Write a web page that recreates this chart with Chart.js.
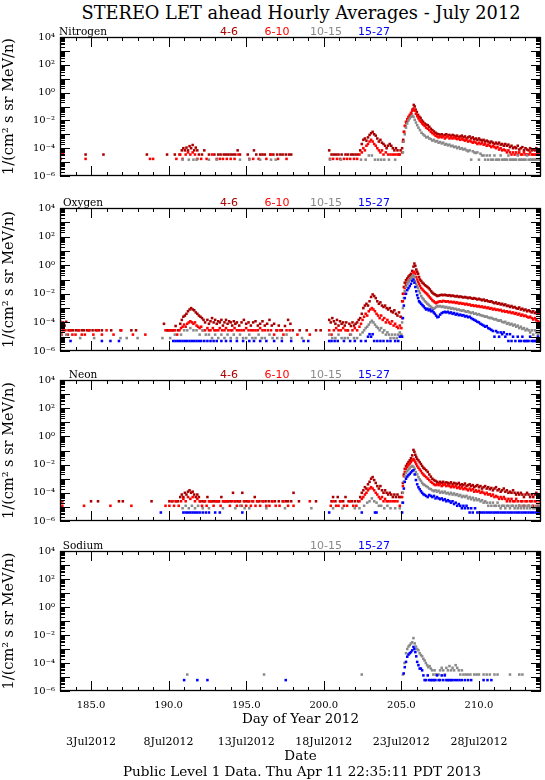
<!DOCTYPE html>
<html>
<head>
<meta charset="utf-8">
<script src="https://cdn.jsdelivr.net/npm/chart.js@4.4.1/dist/chart.umd.min.js"></script>
<style>
    body { margin: 0; width: 545px; height: 780px; background: #fff; position: relative; overflow: hidden; }
    canvas { position: absolute; left: 0; }
    .txt { position: absolute; white-space: nowrap; line-height: 1; transform: translate(-50%, -50%); }
</style>
</head>
<body>
<script>
/** DATA */

const bandLabels = ['4-6', '6-10', '10-15', '15-27'];
const bandColors = ['#a80000', '#ff0000', '#8a8a8a', '#0000ff'];
const dayTicks = [185, 190, 195, 200, 205, 210];
const dateLabels = ['3Jul2012', '8Jul2012', '13Jul2012', '18Jul2012', '23Jul2012', '28Jul2012'];
const yTickValues = [1e-6, 1e-4, 1e-2, 1e0, 1e2, 1e4];
const yTickLabels = ['10⁻⁶', '10⁻⁴', '10⁻²', '10⁰', '10²', '10⁴'];

// [day of year, flux]
const nitrogen46 = [
    [183.03,3.5e-5],[183.12,3.5e-5],[183.2,3.5e-5],[184.65,3.5e-5],[185.8,3.5e-5],[188.6,3.5e-5],[189.9,3.5e-5],[190.4,3.5e-5],[190.7,3.5e-5],
    [190.85,7e-5],[190.95,1e-4],[191.05,7e-5],[191.15,1.1e-4],[191.25,7e-5],[191.35,1.4e-4],[191.45,1e-4],[191.55,1.7e-4],[191.65,7e-5],[191.75,1.1e-4],[191.85,7e-5],[191.95,3.5e-5],
    [192.15,3.5e-5],[192.3,7e-5],[192.6,3.5e-5],[192.95,3.5e-5],[193.2,3.5e-5],[193.35,3.5e-5],[193.55,3.5e-5],[193.7,3.5e-5],[193.85,3.5e-5],[194.0,3.5e-5],[194.15,3.5e-5],[194.3,3.5e-5],[194.45,7e-5],[194.6,3.5e-5],
    [195.1,3.5e-5],[195.5,7e-5],[195.65,3.5e-5],[195.9,3.5e-5],[196.05,3.5e-5],[196.2,3.5e-5],[196.55,3.5e-5],[196.75,3.5e-5],[197.0,3.5e-5],[197.2,3.5e-5],[197.35,3.5e-5],[197.55,3.5e-5],[197.75,3.5e-5],[197.9,3.5e-5],
    [200.35,7e-5],[200.5,3.5e-5],[200.65,3.5e-5],[200.8,3.5e-5],[200.95,3.5e-5],[201.15,3.5e-5],[201.4,3.5e-5],[201.55,3.5e-5],[201.75,3.5e-5],[201.9,3.5e-5],[202.05,3.5e-5],[202.2,3.5e-5],
    [202.35,7e-5],[202.45,2e-4],[202.55,4e-4],[202.65,5e-4],[202.75,3.5e-4],[202.85,6e-4],[202.95,9e-4],[203.05,1.2e-3],[203.15,1.5e-3],[203.25,1e-3],[203.35,8e-4],[203.45,5e-4],[203.55,3e-4],[203.65,4e-4],[203.75,2.5e-4],[203.85,2e-4],[203.95,1.5e-4],
    [204.05,1e-4],[204.15,1.5e-4],[204.25,2e-4],[204.35,1.5e-4],[204.45,1e-4],[204.55,7e-5],[204.65,1e-4],[204.75,7e-5],[204.85,3.5e-5],[204.95,7e-5],
    [205.05,1e-4],[205.12,4e-4],[205.18,1.5e-3],[205.25,4e-3],[205.32,7e-3],[205.4,1e-2],[205.48,1.5e-2],[205.56,2e-2],[205.64,3e-2],[205.72,6e-2],[205.8,1.3e-1],[205.86,1e-1],[205.92,6e-2],
    [206.0,4e-2],[206.08,2.5e-2],[206.16,1.8e-2],[206.24,1.5e-2],[206.32,1e-2],[206.4,8e-3],[206.5,6e-3],[206.6,5e-3],[206.7,4.5e-3],[206.8,3.5e-3],[206.9,2.5e-3],
    [207.0,2e-3],[207.1,1.6e-3],[207.2,1.3e-3],[207.3,1.1e-3],[207.4,1e-3],[207.5,9e-4],[207.6,1e-3],[207.7,8e-4],[207.8,9e-4],[207.9,1e-3],
    [208.0,8e-4],[208.1,9e-4],[208.2,7e-4],[208.3,9e-4],[208.4,8e-4],[208.5,7e-4],[208.6,8e-4],[208.7,6e-4],[208.8,7e-4],[208.9,8e-4],
    [209.0,6e-4],[209.1,7e-4],[209.2,5e-4],[209.3,6e-4],[209.4,7e-4],[209.5,5e-4],[209.6,6e-4],[209.7,4.5e-4],[209.8,5e-4],[209.9,4e-4],
    [210.0,5e-4],[210.1,4e-4],[210.2,3.5e-4],[210.3,4e-4],[210.4,3e-4],[210.5,3.5e-4],[210.6,3e-4],[210.7,2.5e-4],[210.8,3e-4],[210.9,2.5e-4],
    [211.0,2e-4],[211.1,2.5e-4],[211.2,2e-4],[211.3,2.5e-4],[211.4,1.8e-4],[211.5,2e-4],[211.6,1.5e-4],[211.7,2e-4],[211.8,1.5e-4],[211.9,1.8e-4],
    [212.0,1.2e-4],[212.1,1.5e-4],[212.2,1e-4],[212.3,1.2e-4],[212.4,1e-4],[212.5,1.5e-4],[212.6,8e-5],[212.7,1e-4],[212.8,1.2e-4],[212.9,7e-5],
    [213.0,1e-4],[213.1,8e-5],[213.2,7e-5],[213.3,1e-4],[213.4,7e-5],[213.5,8e-5],[213.6,7e-5],[213.7,1e-4],[213.8,7e-5],[213.9,7e-5]
];
const nitrogen610 = [
    [183.05,1.7e-5],[183.2,3.5e-5],[184.65,1.7e-5],[188.8,1.7e-5],[189.0,1.7e-5],[190.5,1.7e-5],[190.75,3.5e-5],[190.9,1.7e-5],[191.1,3.5e-5],[191.25,5e-5],[191.4,3.5e-5],[191.55,5e-5],[191.7,3.5e-5],[191.85,1.7e-5],
    [192.1,1.7e-5],[192.45,1.7e-5],[192.8,3.5e-5],[193.1,1.7e-5],[193.3,1.7e-5],[193.5,1.7e-5],[193.75,1.7e-5],[194.0,1.7e-5],[194.25,1.7e-5],[194.5,3.5e-5],[195.2,1.7e-5],[195.45,1.7e-5],[195.8,1.7e-5],[196.3,1.7e-5],[196.6,3.5e-5],[197.05,1.7e-5],[197.6,1.7e-5],
    [200.4,1.7e-5],[200.6,1.7e-5],[200.85,1.7e-5],[201.05,1.7e-5],[201.3,1.7e-5],[201.5,1.7e-5],[201.7,1.7e-5],[201.95,1.7e-5],[202.15,1.7e-5],[202.3,3.5e-5],
    [202.45,5e-5],[202.55,1e-4],[202.65,7e-5],[202.75,1.5e-4],[202.85,2e-4],[202.95,3e-4],[203.05,4e-4],[203.15,3e-4],[203.25,2e-4],[203.35,1.5e-4],[203.45,1e-4],[203.55,7e-5],[203.65,5e-5],[203.75,7e-5],[203.85,3.5e-5],
    [204.0,5e-5],[204.15,3.5e-5],[204.3,3.5e-5],[204.45,3.5e-5],[204.6,3.5e-5],[204.75,3.5e-5],[204.9,3.5e-5],
    [205.05,5e-5],[205.1,3e-4],[205.16,1.5e-3],[205.22,4e-3],[205.3,8e-3],[205.38,1.2e-2],[205.46,1.8e-2],[205.54,2.5e-2],[205.62,3.5e-2],[205.7,5e-2],[205.78,7e-2],[205.86,5e-2],[205.94,3e-2],
    [206.02,2e-2],[206.1,1.4e-2],[206.18,1e-2],[206.26,8e-3],[206.34,6e-3],[206.42,5e-3],[206.5,4e-3],[206.6,3e-3],[206.7,2.5e-3],[206.8,2e-3],[206.9,1.5e-3],
    [207.0,1.2e-3],[207.1,1e-3],[207.2,8e-4],[207.3,7e-4],[207.4,6e-4],[207.5,7e-4],[207.6,6e-4],[207.7,7e-4],[207.8,5e-4],[207.9,6e-4],
    [208.0,7e-4],[208.1,5e-4],[208.2,6e-4],[208.3,5e-4],[208.4,6e-4],[208.5,5e-4],[208.6,4.5e-4],[208.7,5e-4],[208.8,4e-4],[208.9,5e-4],
    [209.0,4e-4],[209.1,3.5e-4],[209.2,4e-4],[209.3,3e-4],[209.4,3.5e-4],[209.5,3e-4],[209.6,2.5e-4],[209.7,3e-4],[209.8,2.5e-4],[209.9,2e-4],
    [210.0,2.5e-4],[210.1,2e-4],[210.2,2.5e-4],[210.3,1.8e-4],[210.4,2e-4],[210.5,1.5e-4],[210.6,1.8e-4],[210.7,1.5e-4],[210.8,1.2e-4],[210.9,1.5e-4],
    [211.0,1.2e-4],[211.1,1e-4],[211.2,1.2e-4],[211.3,8e-5],[211.4,1e-4],[211.5,7e-5],[211.6,8e-5],[211.7,7e-5],[211.8,5e-5],[211.9,7e-5],
    [212.0,5e-5],[212.1,3.5e-5],[212.2,5e-5],[212.3,3.5e-5],[212.4,5e-5],[212.5,3.5e-5],[212.6,5e-5],[212.7,3.5e-5],[212.8,3.5e-5],[212.9,5e-5],
    [213.0,3.5e-5],[213.1,3.5e-5],[213.2,3.5e-5],[213.3,5e-5],[213.4,3.5e-5],[213.5,3.5e-5],[213.6,3.5e-5],[213.7,3.5e-5],[213.8,3.5e-5],[213.9,3.5e-5]
];
const nitrogen1015 = [
    [190.9,1.5e-5],[191.3,1.5e-5],[191.6,1.5e-5],[191.8,1.5e-5],[192.6,1.5e-5],[193.1,1.5e-5],[194.6,1.5e-5],[195.2,1.5e-5],[195.9,1.5e-5],[196.6,1.5e-5],[196.9,1.5e-5],
    [200.4,1.5e-5],[201.1,1.5e-5],[202.4,1.5e-5],[202.7,1.5e-5],[202.9,3e-5],[203.1,3e-5],[203.3,1.5e-5],[203.5,1.5e-5],[203.7,1.5e-5],[203.9,1.5e-5],[204.2,1.5e-5],[204.6,1.5e-5],
    [205.1,5e-5],[205.16,3e-4],[205.22,1e-3],[205.3,3e-3],[205.38,6e-3],[205.46,1e-2],[205.54,1.4e-2],[205.62,1.8e-2],[205.7,2.2e-2],[205.78,1.8e-2],[205.86,1.1e-2],[205.94,7e-3],
    [206.02,4.5e-3],[206.1,3e-3],[206.2,2e-3],[206.3,1.3e-3],[206.4,1e-3],[206.5,8e-4],[206.6,6e-4],[206.7,6.5e-4],[206.8,5e-4],[206.9,4.5e-4],
    [207.0,3.5e-4],[207.1,4e-4],[207.2,3e-4],[207.3,3.3e-4],[207.4,2.5e-4],[207.5,2.8e-4],[207.6,2.2e-4],[207.7,2.5e-4],[207.8,1.8e-4],[207.9,2e-4],
    [208.0,1.6e-4],[208.1,1.8e-4],[208.2,1.4e-4],[208.3,1.5e-4],[208.4,1.2e-4],[208.5,1.3e-4],[208.6,1e-4],[208.7,1.2e-4],[208.8,9e-5],[208.9,1e-4],
    [209.0,8e-5],[209.1,9e-5],[209.2,7e-5],[209.3,6e-5],[209.4,7e-5],[209.5,1.5e-5],[209.6,6e-5],[209.7,5e-5],[209.8,4.5e-5],[209.9,5e-5],
    [210.0,1.5e-5],[210.1,4e-5],[210.2,3e-5],[210.3,3e-5],[210.4,1.5e-5],[210.5,3e-5],[210.6,1.5e-5],[210.7,3e-5],[210.8,1.5e-5],[210.9,1.5e-5],
    [211.0,3e-5],[211.1,1.5e-5],[211.2,1.5e-5],[211.3,1.5e-5],[211.4,3e-5],[211.5,1.5e-5],[211.6,1.5e-5],[211.7,1.5e-5],[211.8,1.5e-5],[211.9,3e-5],
    [212.0,1.5e-5],[212.1,1.5e-5],[212.2,1.5e-5],[212.3,1.5e-5],[212.4,1.5e-5],[212.5,3e-5],[212.6,1.5e-5],[212.7,1.5e-5],[212.8,1.5e-5],[212.9,1.5e-5],
    [213.0,1.5e-5],[213.1,3e-5],[213.2,1.5e-5],[213.3,1.5e-5],[213.4,1.5e-5],[213.5,1.5e-5],[213.6,1.5e-5],[213.7,1.5e-5],[213.8,1.5e-5],[213.9,1.5e-5]
];
const nitrogen1527 = [];

const oxygen46 = [
    [183.02,1.1e-4],[183.1,8e-5],[183.2,1e-4],[183.3,6e-5],[183.4,1.1e-4],[183.55,2.8e-5],[183.7,2.8e-5],[183.85,2.8e-5],[184.05,2.8e-5],[184.2,2.8e-5],[184.4,2.8e-5],[184.55,2.8e-5],[184.75,2.8e-5],[184.9,2.8e-5],
    [185.1,2.8e-5],[185.3,2.8e-5],[185.5,2.8e-5],[185.7,2.8e-5],[186.3,2.8e-5],[186.9,2.8e-5],[187.6,2.8e-5],[187.9,2.8e-5],[189.7,8e-5],[189.9,2.8e-5],
    [190.0,2.8e-5],[190.15,2.8e-5],[190.3,2.8e-5],[190.45,5.6e-5],[190.6,2.8e-5],
    [190.75,8e-5],[190.85,1.5e-4],[190.95,2.5e-4],[191.05,3e-4],[191.15,4e-4],[191.25,6e-4],[191.35,8e-4],[191.45,1e-3],[191.55,8e-4],[191.65,7e-4],[191.75,5e-4],[191.85,4e-4],[191.95,3e-4],[192.05,2.5e-4],[192.15,2e-4],[192.25,1.5e-4],
    [192.35,1e-4],[192.5,1.5e-4],[192.6,8e-5],[192.7,1.2e-4],[192.8,2e-4],[192.9,1e-4],[193.0,1.5e-4],[193.1,8e-5],[193.2,1.2e-4],[193.3,1e-4],[193.4,1.5e-4],[193.5,6e-5],[193.6,1e-4],[193.7,1.5e-4],[193.8,8e-5],[193.9,1.2e-4],
    [194.0,1e-4],[194.1,6e-5],[194.2,1.2e-4],[194.3,8e-5],[194.4,1e-4],[194.55,6e-5],[194.7,1e-4],[194.85,1.5e-4],[195.0,8e-5],[195.15,1e-4],[195.3,6e-5],[195.45,1e-4],[195.6,1.2e-4],[195.75,6e-5],[195.9,8e-5],
    [196.05,1.2e-4],[196.2,6e-5],[196.35,8e-5],[196.5,1.5e-4],[196.65,6e-5],[196.8,8e-5],[196.95,2.8e-5],[197.1,6e-5],[197.3,2.8e-5],[197.5,5.6e-5],[197.7,1.5e-4],[197.85,8e-5],[198.0,2.8e-5],
    [198.45,2.8e-5],[198.9,2.8e-5],[199.5,2.8e-5],[199.8,2.8e-5],
    [200.35,1.5e-4],[200.45,1e-4],[200.55,2e-4],[200.65,1.2e-4],[200.75,8e-5],[200.85,1.5e-4],[200.95,6e-5],[201.05,1.2e-4],[201.15,8e-5],[201.25,1e-4],[201.35,6e-5],[201.45,1e-4],[201.55,2.8e-5],[201.65,8e-5],[201.75,5.6e-5],[201.85,1e-4],[201.95,6e-5],[202.05,8e-5],[202.15,1e-4],[202.25,1.5e-4],
    [202.35,2e-4],[202.45,4e-4],[202.55,1e-3],[202.65,1.5e-3],[202.75,2e-3],[202.85,1.5e-3],[202.95,3e-3],[203.05,6e-3],[203.15,9e-3],[203.25,7e-3],[203.35,5e-3],[203.45,3e-3],[203.55,2e-3],[203.65,2.5e-3],[203.75,1.5e-3],[203.85,1.2e-3],[203.95,1.5e-3],
    [204.05,1e-3],[204.15,8e-4],[204.25,1e-3],[204.35,6e-4],[204.45,5e-4],[204.55,7e-4],[204.65,4e-4],[204.75,3e-4],[204.85,5e-4],[204.95,2.5e-4],
    [205.05,3e-3],[205.1,1e-2],[205.16,3e-2],[205.22,6e-2],[205.3,9e-2],[205.38,1.2e-1],[205.46,1.6e-1],[205.54,2e-1],[205.62,2.5e-1],[205.7,4e-1],[205.78,8e-1],[205.84,1.3e0],[205.9,9e-1],[205.96,5e-1],
    [206.02,3.5e-1],[206.08,2.5e-1],[206.14,1.5e-1],[206.2,1e-1],[206.28,8e-2],[206.36,6e-2],[206.44,5e-2],[206.52,4e-2],[206.6,3.5e-2],[206.68,3e-2],[206.76,2.5e-2],[206.84,2e-2],[206.92,1.5e-2],
    [207.0,1.2e-2],[207.08,1e-2],[207.16,9e-3],[207.24,8e-3],[207.32,7e-3],[207.4,7.5e-3],[207.5,8e-3],[207.6,8.5e-3],[207.7,8e-3],[207.8,8.5e-3],[207.9,8e-3],
    [208.0,7.5e-3],[208.1,8e-3],[208.2,7e-3],[208.3,7.5e-3],[208.4,7e-3],[208.5,6.5e-3],[208.6,7e-3],[208.7,6e-3],[208.8,6.5e-3],[208.9,6e-3],
    [209.0,5.5e-3],[209.1,6e-3],[209.2,5.5e-3],[209.3,5e-3],[209.4,5.5e-3],[209.5,5e-3],[209.6,4.5e-3],[209.7,5e-3],[209.8,4.5e-3],[209.9,4e-3],
    [210.0,4.5e-3],[210.1,4e-3],[210.2,3.5e-3],[210.3,4e-3],[210.4,3.2e-3],[210.5,3.5e-3],[210.6,3e-3],[210.7,2.8e-3],[210.8,3e-3],[210.9,2.5e-3],
    [211.0,2.2e-3],[211.1,2.5e-3],[211.2,2e-3],[211.3,2.2e-3],[211.4,1.8e-3],[211.5,2e-3],[211.6,1.6e-3],[211.7,1.8e-3],[211.8,1.4e-3],[211.9,1.5e-3],
    [212.0,1.2e-3],[212.1,1.4e-3],[212.2,1.1e-3],[212.3,1.2e-3],[212.4,1e-3],[212.5,9e-4],[212.6,1.1e-3],[212.7,8e-4],[212.8,9e-4],[212.9,7e-4],
    [213.0,8e-4],[213.1,6e-4],[213.2,7e-4],[213.3,6e-4],[213.4,5e-4],[213.5,6e-4],[213.6,4.5e-4],[213.7,5e-4],[213.8,4e-4],[213.9,4.5e-4]
];
const oxygen610 = [
    [183.02,2.8e-5],[183.1,1.4e-5],[183.2,2.8e-5],[183.35,2.8e-5],[183.5,1.4e-5],[183.65,2.8e-5],[183.8,1.4e-5],[184.0,1.4e-5],[184.2,2.8e-5],[184.4,1.4e-5],[184.6,1.4e-5],[184.85,2.8e-5],
    [185.15,1.4e-5],[185.4,2.8e-5],[185.7,1.4e-5],[186.0,2.8e-5],[186.45,1.4e-5],[186.95,2.8e-5],[187.7,1.4e-5],[188.5,1.4e-5],[189.8,2.8e-5],[190.05,2.8e-5],[190.25,2.8e-5],[190.4,2.8e-5],[190.55,1.4e-5],[190.7,2.8e-5],
    [190.8,4e-5],[190.9,5e-5],[191.0,7e-5],[191.1,5e-5],[191.2,8e-5],[191.3,1e-4],[191.4,1.2e-4],[191.5,1e-4],[191.6,8e-5],[191.7,1e-4],[191.8,6e-5],[191.9,5e-5],[192.0,4e-5],[192.1,5e-5],[192.2,2.8e-5],
    [192.35,2.8e-5],[192.5,4e-5],[192.6,2.8e-5],[192.7,2.8e-5],[192.85,4e-5],[192.95,2.8e-5],[193.05,2.8e-5],[193.2,2.8e-5],[193.3,4e-5],[193.45,2.8e-5],[193.6,2.8e-5],[193.7,4e-5],[193.85,2.8e-5],
    [194.0,2.8e-5],[194.1,2.8e-5],[194.25,4e-5],[194.4,2.8e-5],[194.55,2.8e-5],[194.7,2.8e-5],[194.85,2.8e-5],[195.0,4e-5],[195.15,2.8e-5],[195.3,2.8e-5],[195.45,2.8e-5],[195.6,2.8e-5],[195.75,2.8e-5],[195.9,4e-5],
    [196.05,2.8e-5],[196.2,2.8e-5],[196.4,2.8e-5],[196.6,2.8e-5],[196.8,1.4e-5],[197.0,2.8e-5],[197.2,2.8e-5],[197.4,1.4e-5],[197.6,2.8e-5],[197.8,2.8e-5],[198.3,1.4e-5],[199.1,1.4e-5],
    [200.35,2.8e-5],[200.5,1.4e-5],[200.65,2.8e-5],[200.8,4e-5],[200.95,2.8e-5],[201.1,2.8e-5],[201.25,4e-5],[201.4,2.8e-5],[201.55,2.8e-5],[201.7,1.4e-5],[201.85,2.8e-5],[202.0,4e-5],[202.15,2.8e-5],[202.3,5e-5],
    [202.4,8e-5],[202.5,1.5e-4],[202.6,2.5e-4],[202.7,4e-4],[202.8,3e-4],[202.9,6e-4],[203.0,8e-4],[203.1,1e-3],[203.2,8e-4],[203.3,6e-4],[203.4,4e-4],[203.5,3e-4],[203.6,2e-4],[203.7,3e-4],[203.8,1.5e-4],[203.9,2e-4],
    [204.0,1e-4],[204.1,1.5e-4],[204.2,1e-4],[204.3,8e-5],[204.4,1.2e-4],[204.5,6e-5],[204.6,8e-5],[204.7,5e-5],[204.8,4e-5],[204.9,6e-5],[205.0,4e-5],
    [205.05,2e-4],[205.1,3e-3],[205.16,1e-2],[205.22,2.5e-2],[205.3,4e-2],[205.38,6e-2],[205.46,8e-2],[205.54,1e-1],[205.62,1.3e-1],[205.7,1.8e-1],[205.78,3e-1],[205.84,3.5e-1],[205.9,2.5e-1],[205.96,1.5e-1],
    [206.02,1e-1],[206.08,7e-2],[206.14,5e-2],[206.2,3.5e-2],[206.28,2.5e-2],[206.36,2e-2],[206.44,1.6e-2],[206.52,1.3e-2],[206.6,1.1e-2],[206.68,9e-3],[206.76,7e-3],[206.84,5.5e-3],[206.92,4.5e-3],
    [207.0,3.5e-3],[207.08,3e-3],[207.16,2.5e-3],[207.24,2.2e-3],[207.32,2.5e-3],[207.4,2.8e-3],[207.5,3e-3],[207.6,2.8e-3],[207.7,3.2e-3],[207.8,3e-3],[207.9,2.8e-3],
    [208.0,3e-3],[208.1,2.6e-3],[208.2,2.8e-3],[208.3,2.5e-3],[208.4,2.7e-3],[208.5,2.3e-3],[208.6,2.5e-3],[208.7,2.1e-3],[208.8,2.3e-3],[208.9,2e-3],
    [209.0,2.1e-3],[209.1,1.8e-3],[209.2,2e-3],[209.3,1.7e-3],[209.4,1.8e-3],[209.5,1.5e-3],[209.6,1.6e-3],[209.7,1.4e-3],[209.8,1.5e-3],[209.9,1.3e-3],
    [210.0,1.4e-3],[210.1,1.2e-3],[210.2,1.3e-3],[210.3,1.1e-3],[210.4,1.2e-3],[210.5,1e-3],[210.6,1.1e-3],[210.7,9e-4],[210.8,1e-3],[210.9,8e-4],
    [211.0,9e-4],[211.1,7.5e-4],[211.2,8e-4],[211.3,7e-4],[211.4,7.5e-4],[211.5,6e-4],[211.6,6.5e-4],[211.7,5.5e-4],[211.8,6e-4],[211.9,5e-4],
    [212.0,5.5e-4],[212.1,4.5e-4],[212.2,5e-4],[212.3,4e-4],[212.4,4.5e-4],[212.5,3.5e-4],[212.6,4e-4],[212.7,3e-4],[212.8,3.5e-4],[212.9,2.8e-4],
    [213.0,3e-4],[213.1,2.5e-4],[213.2,2.2e-4],[213.3,2.5e-4],[213.4,2e-4],[213.5,1.6e-4],[213.6,2e-4],[213.7,1.4e-4],[213.8,1.2e-4],[213.9,1e-4]
];
const oxygen1015 = [
    [183.05,1.4e-5],[183.2,8e-6],[183.4,1.4e-5],[184.3,8e-6],[185.2,8e-6],[186.9,8e-6],[187.3,8e-6],[188.0,8e-6],[189.6,8e-6],[190.1,8e-6],[190.4,1.4e-5],
    [190.8,1.4e-5],[191.0,2.8e-5],[191.2,2.8e-5],[191.4,4e-5],[191.6,2.8e-5],[191.8,2.8e-5],[192.0,1.4e-5],[192.2,2.8e-5],[192.4,1.4e-5],[192.6,1.4e-5],[192.8,8e-6],
    [193.0,1.4e-5],[193.2,8e-6],[193.4,1.4e-5],[193.6,8e-6],[193.8,1.4e-5],[194.0,8e-6],[194.2,1.4e-5],[194.4,8e-6],[194.6,1.4e-5],[194.8,8e-6],[195.0,8e-6],[195.2,1.4e-5],[195.4,8e-6],[195.6,8e-6],[195.8,1.4e-5],
    [196.0,8e-6],[196.2,8e-6],[196.5,1.4e-5],[196.7,8e-6],[197.0,8e-6],[197.3,8e-6],[197.6,1.4e-5],[197.9,8e-6],[198.6,8e-6],
    [200.35,1.4e-5],[200.55,8e-6],[200.75,8e-6],[200.95,1.4e-5],[201.15,8e-6],[201.35,8e-6],[201.55,8e-6],[201.75,1.4e-5],[201.95,8e-6],[202.15,8e-6],[202.35,1.4e-5],
    [202.5,2e-5],[202.6,2.8e-5],[202.7,4e-5],[202.8,5e-5],[202.9,7e-5],[203.0,1e-4],[203.1,1.3e-4],[203.2,1e-4],[203.3,7e-5],[203.4,5e-5],[203.5,4e-5],[203.6,2.8e-5],[203.7,4e-5],[203.8,2e-5],[203.9,2.8e-5],
    [204.0,1.4e-5],[204.1,2e-5],[204.2,1.4e-5],[204.3,8e-6],[204.4,1.4e-5],[204.5,8e-6],[204.6,1.4e-5],[204.7,8e-6],[204.8,1.4e-5],[204.9,2e-5],[205.0,1.4e-5],
    [205.05,1e-4],[205.1,1e-3],[205.16,5e-3],[205.22,1.5e-2],[205.3,3e-2],[205.38,5e-2],[205.46,7e-2],[205.54,9e-2],[205.62,1.2e-1],[205.7,1.6e-1],[205.78,2e-1],[205.84,1.5e-1],[205.9,8e-2],[205.96,5e-2],
    [206.02,3.5e-2],[206.08,2.5e-2],[206.14,1.6e-2],[206.2,1.1e-2],[206.28,7e-3],[206.36,5e-3],[206.44,4e-3],[206.52,3e-3],[206.6,2.5e-3],[206.68,2e-3],[206.76,1.7e-3],[206.84,1.4e-3],[206.92,1.2e-3],
    [207.0,1e-3],[207.08,9e-4],[207.16,1e-3],[207.24,1.2e-3],[207.32,1.4e-3],[207.4,1.3e-3],[207.5,1.4e-3],[207.6,1.2e-3],[207.7,1.3e-3],[207.8,1.1e-3],[207.9,1.2e-3],
    [208.0,1e-3],[208.1,1.1e-3],[208.2,9e-4],[208.3,1e-3],[208.4,8.5e-4],[208.5,9e-4],[208.6,7.5e-4],[208.7,8e-4],[208.8,7e-4],[208.9,6.5e-4],
    [209.0,7e-4],[209.1,6e-4],[209.2,5.5e-4],[209.3,6e-4],[209.4,5e-4],[209.5,4.5e-4],[209.6,5e-4],[209.7,4e-4],[209.8,4.2e-4],[209.9,3.5e-4],
    [210.0,3.8e-4],[210.1,3.2e-4],[210.2,3e-4],[210.3,2.8e-4],[210.4,2.5e-4],[210.5,2.6e-4],[210.6,2.2e-4],[210.7,2e-4],[210.8,2.1e-4],[210.9,1.8e-4],
    [211.0,1.6e-4],[211.1,1.7e-4],[211.2,1.4e-4],[211.3,1.3e-4],[211.4,1.4e-4],[211.5,1.1e-4],[211.6,1e-4],[211.7,1.1e-4],[211.8,8e-5],[211.9,9e-5],
    [212.0,7e-5],[212.1,8e-5],[212.2,6e-5],[212.3,7e-5],[212.4,5e-5],[212.5,6e-5],[212.6,4e-5],[212.7,5e-5],[212.8,3.5e-5],[212.9,4e-5],
    [213.0,2.8e-5],[213.1,3.5e-5],[213.2,2.8e-5],[213.3,2e-5],[213.4,2.8e-5],[213.5,1.4e-5],[213.6,2.8e-5],[213.7,2e-5],[213.8,1.4e-5],[213.9,2e-5]
];
const oxygen1527 = [
    [183.68,5e-6],[185.7,5e-6],[186.25,5e-6],[186.8,5e-6],
    [190.3,5e-6],[190.45,5e-6],[190.6,5e-6],[190.75,5e-6],[190.9,5e-6],[191.05,5e-6],[191.2,5e-6],[191.35,5e-6],[191.5,5e-6],[191.65,5e-6],[191.8,5e-6],[191.95,5e-6],[192.1,5e-6],[192.3,5e-6],[192.5,5e-6],[192.7,5e-6],[192.9,5e-6],
    [193.1,5e-6],[193.4,5e-6],[193.7,5e-6],[194.0,5e-6],[194.4,5e-6],[194.8,5e-6],[195.2,5e-6],[195.5,5e-6],[195.9,5e-6],[196.3,5e-6],[196.8,5e-6],[197.3,5e-6],[197.9,5e-6],[198.7,5e-6],[199.0,5e-6],
    [200.35,5e-6],[200.5,5e-6],[200.7,5e-6],[200.9,5e-6],[201.3,5e-6],[201.7,5e-6],[202.0,5e-6],[202.4,5e-6],[202.7,5e-6],[202.85,1e-5],[202.95,1.5e-5],[203.05,1e-5],[203.15,1.5e-5],[203.25,5e-6],
    [203.45,5e-6],[203.65,5e-6],[203.85,5e-6],[204.1,5e-6],[204.3,5e-6],[204.6,5e-6],[204.8,5e-6],[204.9,1e-5],[205.0,1e-5],
    [205.05,1e-5],[205.1,2e-4],[205.16,1.5e-3],[205.22,5e-3],[205.3,1e-2],[205.38,1.8e-2],[205.46,2.5e-2],[205.54,3.5e-2],[205.62,5e-2],[205.7,8e-2],[205.78,1e-1],[205.84,6e-2],[205.9,3e-2],[205.96,1.5e-2],
    [206.02,8e-3],[206.08,5e-3],[206.14,3e-3],[206.2,2.5e-3],[206.28,2e-3],[206.36,1.6e-3],[206.44,1.3e-3],[206.52,1e-3],[206.6,8e-4],[206.68,9e-4],[206.76,7e-4],[206.84,8e-4],[206.92,6e-4],
    [207.0,6.5e-4],[207.08,5e-4],[207.16,4e-4],[207.24,3e-4],[207.32,2.3e-4],[207.4,2.5e-4],[207.5,3.5e-4],[207.6,4.5e-4],[207.7,5e-4],[207.8,5.5e-4],[207.9,5e-4],
    [208.0,5.5e-4],[208.1,4.5e-4],[208.2,5e-4],[208.3,4e-4],[208.4,4.5e-4],[208.5,3.5e-4],[208.6,4e-4],[208.7,3.2e-4],[208.8,3.5e-4],[208.9,3e-4],
    [209.0,3.2e-4],[209.1,2.6e-4],[209.2,2.8e-4],[209.3,2.3e-4],[209.4,2.5e-4],[209.5,2e-4],[209.6,1.7e-4],[209.7,1.5e-4],[209.8,1.3e-4],[209.9,1.1e-4],
    [210.0,1e-4],[210.1,8e-5],[210.2,7e-5],[210.3,6e-5],[210.4,5e-5],[210.5,5.5e-5],[210.6,4e-5],[210.7,3.5e-5],[210.8,3e-5],[210.9,2.5e-5],
    [211.0,1e-5],[211.1,2.5e-5],[211.2,2e-5],[211.3,1e-5],[211.4,2e-5],[211.5,1.5e-5],[211.6,2e-5],[211.7,1e-5],[211.8,1.5e-5],[211.9,5e-6],
    [212.0,1.5e-5],[212.1,5e-6],[212.2,1e-5],[212.35,5e-6],[212.5,1e-5],[212.6,5e-6],[212.7,5e-6],[212.8,1e-5],[212.9,5e-6],
    [213.0,5e-6],[213.1,5e-6],[213.2,5e-6],[213.3,1e-5],[213.4,5e-6],[213.5,5e-6],[213.6,5e-6],[213.7,5e-6],[213.8,1e-5],[213.9,5e-6]
];

const neon46 = [
    [183.02,2.5e-5],[183.15,2.5e-5],[185.0,2.5e-5],[185.45,2.5e-5],[186.8,2.5e-5],[187.05,2.5e-5],[188.9,2.5e-5],[190.05,2.5e-5],[190.25,2.5e-5],[190.45,2.5e-5],[190.6,2.5e-5],
    [190.75,5e-5],[190.85,7.5e-5],[190.95,5e-5],[191.05,1e-4],[191.15,7.5e-5],[191.25,1.2e-4],[191.35,1.5e-4],[191.45,1e-4],[191.55,1.2e-4],[191.65,7.5e-5],[191.75,5e-5],[191.85,7.5e-5],[191.95,5e-5],[192.05,2.5e-5],
    [192.2,2.5e-5],[192.35,2.5e-5],[192.5,5e-5],[192.65,2.5e-5],[192.8,2.5e-5],[192.95,2.5e-5],[193.1,2.5e-5],[193.25,2.5e-5],[193.4,5e-5],[193.55,2.5e-5],[193.7,2.5e-5],[193.85,2.5e-5],
    [194.0,2.5e-5],[194.15,1e-4],[194.3,2.5e-5],[194.45,2.5e-5],[194.6,2.5e-5],[194.75,1e-4],[194.9,2.5e-5],[195.05,2.5e-5],[195.2,2.5e-5],[195.4,2.5e-5],[195.55,5e-5],[195.7,2.5e-5],[195.85,2.5e-5],
    [196.05,2.5e-5],[196.25,2.5e-5],[196.45,2.5e-5],[196.65,2.5e-5],[196.85,2.5e-5],[197.1,2.5e-5],[197.35,2.5e-5],[197.55,2.5e-5],[197.7,2.5e-5],[197.9,2.5e-5],[198.05,1e-4],[198.4,2.5e-5],[199.5,2.5e-5],
    [200.5,2.5e-5],[200.6,5e-5],[200.75,2.5e-5],[200.9,5e-5],[201.05,2.5e-5],[201.25,2.5e-5],[201.4,5e-5],[201.6,2.5e-5],[201.8,2.5e-5],[202.0,2.5e-5],[202.2,2.5e-5],
    [202.35,5e-5],[202.45,1e-4],[202.55,1.5e-4],[202.65,2.5e-4],[202.75,2e-4],[202.85,4e-4],[202.95,6e-4],[203.05,1e-3],[203.15,1.3e-3],[203.25,8e-4],[203.35,5e-4],[203.45,3e-4],[203.55,2e-4],[203.65,3e-4],[203.75,1.5e-4],[203.85,1e-4],[203.95,1.5e-4],
    [204.05,1e-4],[204.15,7.5e-5],[204.25,1e-4],[204.35,7.5e-5],[204.45,5e-5],[204.55,7.5e-5],[204.65,5e-5],[204.75,7.5e-5],[204.85,5e-5],[204.95,5e-5],
    [205.05,1e-4],[205.1,5e-4],[205.16,2e-3],[205.22,5e-3],[205.3,8e-3],[205.38,1.1e-2],[205.46,1.5e-2],[205.54,2e-2],[205.62,2.8e-2],[205.7,4.5e-2],[205.78,1.1e-1],[205.84,8e-2],[205.9,5e-2],[205.96,3.5e-2],
    [206.02,2.5e-2],[206.1,2e-2],[206.18,1.5e-2],[206.26,1.1e-2],[206.34,8e-3],[206.42,6e-3],[206.5,5e-3],[206.6,4e-3],[206.7,3e-3],[206.8,2e-3],[206.9,1.4e-3],
    [207.0,1e-3],[207.1,8e-4],[207.2,7e-4],[207.3,6e-4],[207.4,5e-4],[207.5,6e-4],[207.6,5e-4],[207.7,6e-4],[207.8,4.5e-4],[207.9,5.5e-4],
    [208.0,5e-4],[208.1,4.5e-4],[208.2,5.5e-4],[208.3,4e-4],[208.4,5e-4],[208.5,4.5e-4],[208.6,4e-4],[208.7,5e-4],[208.8,3.5e-4],[208.9,4e-4],
    [209.0,3.5e-4],[209.1,4.5e-4],[209.2,3e-4],[209.3,3.5e-4],[209.4,4e-4],[209.5,3e-4],[209.6,3.5e-4],[209.7,2.5e-4],[209.8,3e-4],[209.9,3.5e-4],
    [210.0,2.5e-4],[210.1,3e-4],[210.2,2e-4],[210.3,2.5e-4],[210.4,3e-4],[210.5,2e-4],[210.6,2.5e-4],[210.7,1.8e-4],[210.8,2.2e-4],[210.9,1.5e-4],
    [211.0,2e-4],[211.1,2.5e-4],[211.2,1.5e-4],[211.3,1.8e-4],[211.4,1.2e-4],[211.5,1.5e-4],[211.6,2e-4],[211.7,1.2e-4],[211.8,1.5e-4],[211.9,1e-4],
    [212.0,1.2e-4],[212.1,1e-4],[212.2,1.5e-4],[212.3,1e-4],[212.4,7.5e-5],[212.5,1e-4],[212.6,7.5e-5],[212.7,1e-4],[212.8,7.5e-5],[212.9,5e-5],
    [213.0,7.5e-5],[213.1,1e-4],[213.2,7.5e-5],[213.3,5e-5],[213.4,7.5e-5],[213.5,5e-5],[213.6,7.5e-5],[213.7,1e-4],[213.8,5e-5],[213.9,7.5e-5]
];
const neon610 = [
    [183.05,2.5e-5],[183.15,1.2e-5],[184.55,1.2e-5],[186.25,1.2e-5],[187.6,1.2e-5],[189.8,1.2e-5],[190.05,1.2e-5],[190.2,2.5e-5],[190.35,1.2e-5],[190.5,2.5e-5],[190.65,1.2e-5],
    [190.8,2.5e-5],[190.95,3.7e-5],[191.1,2.5e-5],[191.25,5e-5],[191.4,3.7e-5],[191.55,5e-5],[191.7,2.5e-5],[191.85,3.7e-5],[192.0,2.5e-5],
    [192.15,1.2e-5],[192.3,2.5e-5],[192.45,1.2e-5],[192.6,2.5e-5],[192.75,2.5e-5],[192.9,1.2e-5],[193.05,2.5e-5],[193.2,2.5e-5],[193.35,1.2e-5],[193.5,2.5e-5],[193.65,2.5e-5],[193.8,2.5e-5],[193.95,1.2e-5],
    [194.1,2.5e-5],[194.25,2.5e-5],[194.4,1.2e-5],[194.55,2.5e-5],[194.7,1.2e-5],[194.85,2.5e-5],[195.0,1.2e-5],[195.15,2.5e-5],[195.3,1.2e-5],[195.45,2.5e-5],[195.6,1.2e-5],[195.75,2.5e-5],[195.9,1.2e-5],
    [196.1,2.5e-5],[196.3,1.2e-5],[196.5,1.2e-5],[196.7,2.5e-5],[196.9,1.2e-5],[197.15,1.2e-5],[197.4,2.5e-5],[197.7,1.2e-5],[198.05,1.2e-5],[199.1,2.5e-5],
    [200.45,1.2e-5],[200.6,2.5e-5],[200.8,1.2e-5],[200.95,1.2e-5],[201.1,2.5e-5],[201.3,1.2e-5],[201.5,1.2e-5],[201.7,2.5e-5],[201.9,1.2e-5],[202.1,1.2e-5],[202.3,2.5e-5],
    [202.45,3.7e-5],[202.55,5e-5],[202.65,7.5e-5],[202.75,1e-4],[202.85,1.5e-4],[202.95,2e-4],[203.05,2.5e-4],[203.15,2e-4],[203.25,1.5e-4],[203.35,1e-4],[203.45,7.5e-5],[203.55,5e-5],[203.65,3.7e-5],[203.75,5e-5],[203.85,2.5e-5],[203.95,3.7e-5],
    [204.05,2.5e-5],[204.15,2.5e-5],[204.3,2.5e-5],[204.45,2.5e-5],[204.6,2.5e-5],[204.75,2.5e-5],[204.9,1.2e-5],
    [205.05,5e-5],[205.1,3e-4],[205.16,1.5e-3],[205.22,3e-3],[205.3,5e-3],[205.38,7e-3],[205.46,9e-3],[205.54,1.2e-2],[205.62,1.5e-2],[205.7,2e-2],[205.78,2.5e-2],[205.84,2e-2],[205.9,1.5e-2],[205.96,1.1e-2],
    [206.02,8e-3],[206.1,6e-3],[206.18,4.5e-3],[206.26,3.5e-3],[206.34,2.5e-3],[206.42,2e-3],[206.5,1.6e-3],[206.6,1.3e-3],[206.7,1e-3],[206.8,8e-4],[206.9,6e-4],
    [207.0,5e-4],[207.1,4e-4],[207.2,3.5e-4],[207.3,4e-4],[207.4,3.5e-4],[207.5,4e-4],[207.6,3e-4],[207.7,3.5e-4],[207.8,4e-4],[207.9,3e-4],
    [208.0,3.5e-4],[208.1,3e-4],[208.2,2.5e-4],[208.3,3e-4],[208.4,2.5e-4],[208.5,3e-4],[208.6,2.2e-4],[208.7,2.5e-4],[208.8,2e-4],[208.9,2.5e-4],
    [209.0,1.8e-4],[209.1,2.2e-4],[209.2,1.8e-4],[209.3,1.5e-4],[209.4,2e-4],[209.5,1.5e-4],[209.6,1.8e-4],[209.7,1.2e-4],[209.8,1.5e-4],[209.9,1.2e-4],
    [210.0,1.4e-4],[210.1,1e-4],[210.2,1.2e-4],[210.3,1e-4],[210.4,8e-5],[210.5,1e-4],[210.6,7.5e-5],[210.7,8e-5],[210.8,6e-5],[210.9,7.5e-5],
    [211.0,5e-5],[211.1,6e-5],[211.2,5e-5],[211.3,3.7e-5],[211.4,5e-5],[211.5,3.7e-5],[211.6,5e-5],[211.7,3.7e-5],[211.8,2.5e-5],[211.9,3.7e-5],
    [212.0,2.5e-5],[212.1,3.7e-5],[212.2,2.5e-5],[212.3,2.5e-5],[212.4,3.7e-5],[212.5,2.5e-5],[212.6,1.2e-5],[212.7,2.5e-5],[212.8,2.5e-5],[212.9,1.2e-5],
    [213.0,2.5e-5],[213.1,2.5e-5],[213.2,1.2e-5],[213.3,2.5e-5],[213.4,2.5e-5],[213.5,1.2e-5],[213.6,2.5e-5],[213.7,2.5e-5],[213.8,1.2e-5],[213.9,2.5e-5]
];
const neon1015 = [
    [190.9,8e-6],[191.1,1.2e-5],[191.3,8e-6],[191.5,1.2e-5],[191.7,8e-6],[191.9,1.2e-5],[192.2,8e-6],[192.6,8e-6],[193.5,8e-6],[194.3,8e-6],[194.6,1.2e-5],[194.9,8e-6],[195.2,8e-6],[196.3,8e-6],[197.5,8e-6],[199.2,8e-6],
    [200.6,8e-6],[201.2,8e-6],[202.0,8e-6],[202.3,8e-6],
    [202.6,1.2e-5],[202.8,2e-5],[202.95,2.5e-5],[203.1,4e-5],[203.25,2.5e-5],[203.4,2e-5],[203.55,1.2e-5],[203.7,1.2e-5],[203.9,8e-6],[204.1,1.2e-5],[204.3,8e-6],[204.6,8e-6],[204.9,8e-6],
    [205.05,2e-5],[205.1,1e-4],[205.16,6e-4],[205.22,1.5e-3],[205.3,2.5e-3],[205.38,3.5e-3],[205.46,4.5e-3],[205.54,5.5e-3],[205.62,7e-3],[205.7,8e-3],[205.78,7e-3],[205.86,5e-3],[205.94,3e-3],
    [206.02,2e-3],[206.1,1.3e-3],[206.18,9e-4],[206.26,7e-4],[206.34,5e-4],[206.42,4e-4],[206.5,3.5e-4],[206.6,3e-4],[206.7,2.5e-4],[206.8,2e-4],[206.9,1.8e-4],
    [207.0,1.5e-4],[207.1,1.3e-4],[207.2,1.5e-4],[207.3,1.2e-4],[207.4,1.4e-4],[207.5,1e-4],[207.6,1.2e-4],[207.7,1e-4],[207.8,1.2e-4],[207.9,9e-5],
    [208.0,1e-4],[208.1,8e-5],[208.2,1e-4],[208.3,7.5e-5],[208.4,9e-5],[208.5,7e-5],[208.6,8e-5],[208.7,6e-5],[208.8,7e-5],[208.9,5e-5],
    [209.0,6e-5],[209.1,5e-5],[209.2,6e-5],[209.3,4e-5],[209.4,5e-5],[209.5,3.5e-5],[209.6,4.5e-5],[209.7,3e-5],[209.8,4e-5],[209.9,3e-5],
    [210.0,3.5e-5],[210.1,2.5e-5],[210.2,3e-5],[210.3,2e-5],[210.4,2.5e-5],[210.5,2e-5],[210.6,1.2e-5],[210.7,2e-5],[210.8,1.2e-5],[210.9,2e-5],
    [211.0,1.2e-5],[211.1,1.2e-5],[211.2,2e-5],[211.3,1.2e-5],[211.4,8e-6],[211.5,1.2e-5],[211.6,1.2e-5],[211.7,8e-6],[211.8,1.2e-5],[211.9,1.2e-5],
    [212.0,8e-6],[212.1,1.2e-5],[212.2,1.2e-5],[212.3,8e-6],[212.4,1.2e-5],[212.5,8e-6],[212.6,1.2e-5],[212.7,8e-6],[212.8,1.2e-5],[212.9,8e-6],
    [213.0,1.2e-5],[213.1,8e-6],[213.2,1.2e-5],[213.3,8e-6],[213.4,1.2e-5],[213.5,8e-6],[213.6,8e-6],[213.7,1.2e-5],[213.8,8e-6],[213.9,1.2e-5]
];
const neon1527 = [
    [189.5,4e-6],[190.95,4e-6],[191.1,4e-6],[191.25,4e-6],[191.4,4e-6],[191.55,4e-6],[191.7,4e-6],[191.85,4e-6],[192.0,4e-6],[192.2,4e-6],[192.4,4e-6],[192.6,4e-6],[193.0,4e-6],[193.3,4e-6],[194.75,4e-6],
    [200.35,4e-6],[202.45,4e-6],[203.3,4e-6],[203.4,4e-6],
    [205.05,4e-6],[205.1,2e-5],[205.16,2e-4],[205.22,6e-4],[205.3,1e-3],[205.38,1.4e-3],[205.46,1.8e-3],[205.54,2.2e-3],[205.62,2.8e-3],[205.7,3.5e-3],[205.78,4e-3],[205.86,2e-3],[205.94,8e-4],
    [206.02,4e-4],[206.1,2.5e-4],[206.18,1.8e-4],[206.26,1.3e-4],[206.34,1e-4],[206.42,8e-5],[206.5,7e-5],[206.6,6e-5],[206.7,5e-5],[206.8,7e-5],[206.9,6e-5],
    [207.0,5e-5],[207.1,6e-5],[207.2,4e-5],[207.3,5e-5],[207.4,4e-5],[207.5,3.5e-5],[207.6,4e-5],[207.7,3e-5],[207.8,3.5e-5],[207.9,2.5e-5],
    [208.0,3e-5],[208.1,2.5e-5],[208.2,2e-5],[208.3,2.5e-5],[208.4,1.6e-5],[208.5,2e-5],[208.6,1.2e-5],[208.7,1.6e-5],[208.8,1.2e-5],[208.9,8e-6],
    [209.0,1.2e-5],[209.1,8e-6],[209.2,1.2e-5],[209.3,8e-6],[209.4,4e-6],[209.5,8e-6],[209.6,4e-6],[209.75,8e-6],[209.9,4e-6],
    [210.05,4e-6],[210.2,4e-6],[210.35,4e-6],[210.5,4e-6],[210.65,4e-6],[210.8,4e-6],[210.95,4e-6],[211.1,4e-6],[211.25,4e-6],[211.4,4e-6],[211.55,4e-6],[211.7,4e-6],[211.85,4e-6],
    [212.0,4e-6],[212.15,4e-6],[212.3,4e-6],[212.45,4e-6],[212.6,4e-6],[212.75,4e-6],[212.9,4e-6],[213.05,4e-6],[213.2,4e-6],[213.35,4e-6],[213.5,4e-6],[213.65,4e-6],[213.8,4e-6],[213.95,4e-6]
];

const sodium1015 = [
    [191.2,1.5e-5],[196.15,1.5e-5],[202.45,1.5e-5],
    [205.1,1.5e-5],[205.2,1e-4],[205.3,5e-4],[205.38,1e-3],[205.46,1.5e-3],[205.54,1.9e-3],[205.62,2.5e-3],[205.7,3e-3],[205.78,6e-3],[205.86,2.5e-3],[205.94,1.5e-3],
    [206.02,1e-3],[206.1,8e-4],[206.18,5e-4],[206.26,3.7e-4],[206.34,3e-4],[206.42,2e-4],[206.5,1.5e-4],[206.58,1e-4],[206.66,7e-5],[206.74,5e-5],[206.82,6e-5],[206.9,4e-5],[206.98,3e-5],
    [207.06,1.5e-5],[207.14,3e-5],[207.22,1.5e-5],[207.3,1.5e-5],[207.4,1.5e-5],[207.5,3e-5],[207.6,4.5e-5],[207.7,3e-5],[207.8,1.5e-5],[207.9,4.5e-5],
    [208.0,3e-5],[208.1,6e-5],[208.2,3e-5],[208.3,4.5e-5],[208.4,3e-5],[208.5,7e-5],[208.6,4.5e-5],[208.7,3e-5],[208.8,1.5e-5],[208.9,3e-5],
    [209.0,1.5e-5],[209.15,1.5e-5],[209.3,1.5e-5],[209.45,1.5e-5],[209.7,1.5e-5],[209.85,1.5e-5],[210.0,1.5e-5],[210.3,1.5e-5],[210.5,1.5e-5],[210.7,1.5e-5],[211.0,1.5e-5],[211.2,1.5e-5],[212.0,1.5e-5],[212.6,1.5e-5],[212.8,1.5e-5]
];
const sodium1527 = [
    [191.0,6e-6],[191.85,6e-6],[192.5,6e-6],[197.55,6e-6],
    [205.15,1.8e-5],[205.22,5e-5],[205.3,1.2e-4],[205.38,2.8e-4],[205.46,4e-4],[205.54,5e-4],[205.62,6e-4],[205.7,8e-4],[205.78,1.4e-3],[205.84,1e-3],[205.9,6e-4],[205.96,3e-4],
    [206.02,1.2e-4],[206.1,7e-5],[206.18,4e-5],[206.26,4e-5],[206.34,3e-5],[206.42,1.3e-5],[206.5,6e-6],[206.6,6e-6],[206.7,1.3e-5],[206.8,6e-6],[206.9,6e-6],
    [207.0,6e-6],[207.1,6e-6],[207.2,6e-6],[207.3,1.3e-5],[207.4,6e-6],[207.5,6e-6],[207.6,1.3e-5],[207.7,6e-6],[207.8,1.3e-5],[207.9,6e-6],
    [208.0,6e-6],[208.1,6e-6],[208.2,6e-6],[208.3,6e-6],[208.45,6e-6],[208.6,6e-6],[208.75,6e-6],[208.9,6e-6],[209.1,6e-6],[209.3,6e-6],[209.5,6e-6],[210.3,6e-6],[210.55,6e-6],[210.8,6e-6]
];

/** LAYOUT */

const serif = 'DejaVu Serif';
const plotLeft = 60;
const plotRight = 543;

const panels = [
    { name: 'Nitrogen', top: 36, bottom: 177, series: [nitrogen46, nitrogen610, nitrogen1015, nitrogen1527] },
    { name: 'Oxygen', top: 207, bottom: 352, series: [oxygen46, oxygen610, oxygen1015, oxygen1527] },
    { name: 'Neon', top: 379, bottom: 522, series: [neon46, neon610, neon1015, neon1527] },
    { name: 'Sodium', top: 550, bottom: 691, series: [null, null, sodium1015, sodium1527] }
];
const bandLabelX = [229, 277, 326, 374];

const addText = (text, x, y, font, color) => {
    const el = document.createElement('div');
    el.className = 'txt';
    el.textContent = text;
    el.style.left = x + 'px';
    el.style.top = y + 'px';
    el.style.font = font;
    el.style.color = color || '#000';
    document.body.appendChild(el);
    return el;
}

/** CHART */

// inward tick marks on all four sides, placed through the chart's own scales
const frameTicks = {
    id: 'frameTicks',
    afterDatasetsDraw(chart) {
        const { ctx, chartArea: a, scales: { x, y } } = chart;
        ctx.save();
        ctx.strokeStyle = '#000';
        ctx.lineWidth = 1;
        ctx.beginPath();
        for (let d = 184; d < 214; d++) {
            const px = Math.round(x.getPixelForValue(d)) + 0.5;
            const len = dayTicks.includes(d) ? 10 : 4;
            ctx.moveTo(px, a.top); ctx.lineTo(px, a.top + len);
            ctx.moveTo(px, a.bottom); ctx.lineTo(px, a.bottom - len);
        }
        for (let e = -6; e < 4; e++) {
            for (let m = 1; m < 10; m++) {
                const py = Math.round(y.getPixelForValue(m * Math.pow(10, e))) + 0.5;
                const len = m === 1 ? 10 : 5;
                ctx.moveTo(a.left, py); ctx.lineTo(a.left + len, py);
                ctx.moveTo(a.right, py); ctx.lineTo(a.right - len, py);
            }
        }
        ctx.stroke();
        ctx.lineWidth = 1.3;
        ctx.strokeRect(a.left + 0.5, a.top + 0.5, a.right - a.left - 1, a.bottom - a.top - 1);
        ctx.restore();
    }
};

const axisText = (size) => ({ family: serif, size: size });

const makePanel = (panel, index) => {
    const last = index === panels.length - 1;
    const top = panel.top - 10;
    const height = last ? 780 - top : panel.bottom - panel.top + 20;
    const canvas = document.createElement('canvas');
    canvas.width = 545;
    canvas.height = height;
    canvas.style.top = top + 'px';
    document.body.appendChild(canvas);

    addText(panel.name, 83, panel.top - 5, '10.5px ' + serif);
    panel.series.forEach((s, i) => {
        if (s) addText(bandLabels[i], bandLabelX[i], panel.top - 5, '11px "DejaVu Sans"', bandColors[i]);
    });

    const datasets = [];
    panel.series.forEach((s, i) => {
        if (!s) return;
        datasets.push({
            label: bandLabels[i],
            data: s,
            order: 3 - i,
            pointStyle: 'rect',
            pointRadius: 1.8,
            pointBorderWidth: 0,
            backgroundColor: bandColors[i],
            borderColor: bandColors[i]
        });
    });

    const xHeight = last ? 37 : 0;

    new Chart(canvas, {
        type: 'scatter',
        data: { datasets },
        options: {
            responsive: false,
            animation: false,
            events: [],
            layout: { padding: { left: 0, right: 545 - plotRight, top: 10, bottom: last ? 15 : 10 } },
            plugins: { legend: { display: false }, tooltip: { enabled: false } },
            scales: {
                x: {
                    type: 'linear', min: 183, max: 214, display: last, weight: 0,
                    afterBuildTicks: s => { s.ticks = dayTicks.map(v => ({ value: v })); },
                    afterFit: s => { s.height = xHeight; },
                    grid: { display: false, drawTicks: false },
                    border: { display: false },
                    ticks: { autoSkip: false, maxRotation: 0, padding: 8, color: '#000', font: axisText(10), callback: v => v.toFixed(1) },
                    title: { display: true, text: 'Day of Year 2012', color: '#000', font: axisText(13.5), padding: 0 }
                },
                x2: {
                    type: 'linear', min: 183, max: 214, display: last, position: 'bottom', weight: 1,
                    afterBuildTicks: s => { s.ticks = dayTicks.map(v => ({ value: v })); },
                    afterFit: s => { s.height = xHeight; },
                    grid: { display: false, drawTicks: false },
                    border: { display: false },
                    ticks: { autoSkip: false, maxRotation: 0, padding: 8, color: '#000', font: axisText(11), callback: (v, i) => dateLabels[i] },
                    title: { display: true, text: 'Date', color: '#000', font: axisText(13.5), padding: 0 }
                },
                y: {
                    type: 'logarithmic', min: 1e-6, max: 1e4,
                    afterBuildTicks: s => { s.ticks = yTickValues.map(v => ({ value: v })); },
                    afterFit: s => { s.width = plotLeft; },
                    grid: { display: false, drawTicks: false },
                    border: { display: false },
                    ticks: { autoSkip: false, padding: 5, color: '#000', font: axisText(10), callback: (v, i) => yTickLabels[i] },
                    title: { display: true, text: '1/(cm² s sr MeV/n)', color: '#000', font: axisText(14.5), padding: { top: 1, bottom: 0 } }
                }
            }
        },
        plugins: [frameTicks]
    });
}

addText('STEREO LET ahead Hourly Averages - July 2012', 301, 12, '17.8px ' + serif);
panels.forEach(makePanel);
addText('Public Level 1 Data. Thu Apr 11 22:35:11 PDT 2013', 302, 771, '13.6px ' + serif);
</script>
</body>
</html>
